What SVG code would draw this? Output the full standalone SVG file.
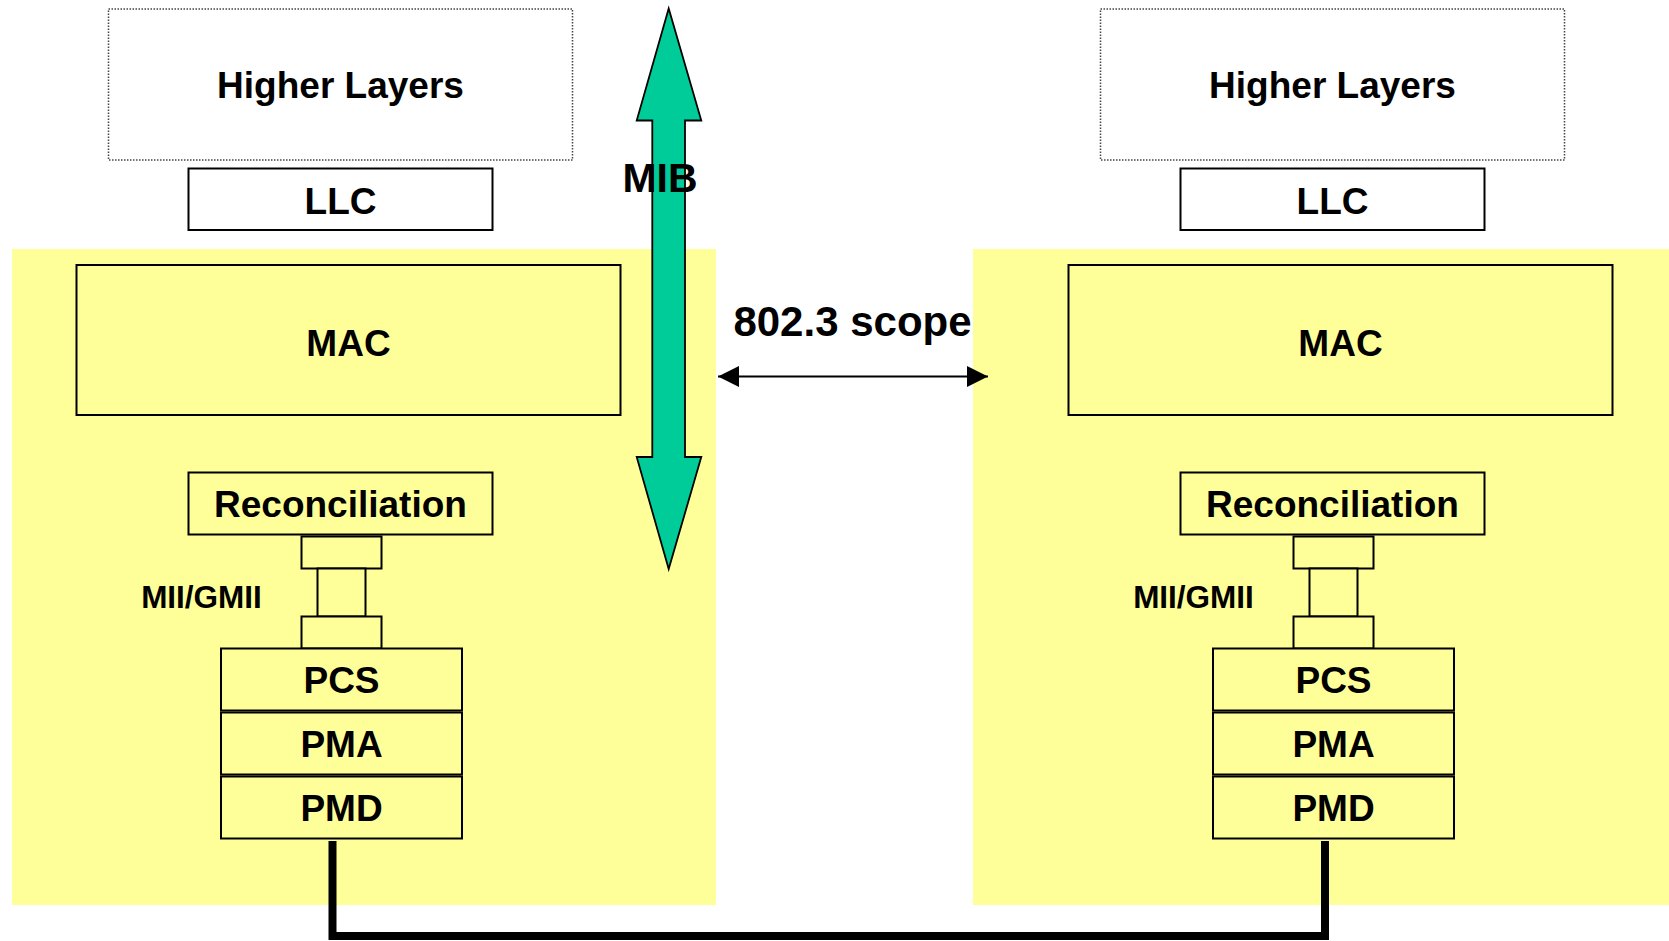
<svg xmlns="http://www.w3.org/2000/svg" width="1669" height="941" viewBox="0 0 1669 941">
<style>
.bg{fill:#FFFF99;stroke:none}
.box{fill:#FFFF99;stroke:#000;stroke-width:2}
.wbox{fill:#fff;stroke:#000;stroke-width:2}
.dot{fill:#fff;stroke:#444;stroke-width:1.5;stroke-dasharray:1.5 1.5}
.t{font-family:"Liberation Sans",Arial,sans-serif;font-weight:bold;fill:#000;text-anchor:middle}
.big{font-size:37px}
.small{font-size:31.5px}
</style>
<defs>
<marker id="ah" viewBox="0 0 10 10" refX="10" refY="5" markerWidth="21" markerHeight="21" markerUnits="userSpaceOnUse" orient="auto-start-reverse">
<path d="M0,0 L10,5 L0,10 z" fill="#000"/>
</marker>
</defs>
<rect width="1669" height="941" fill="#fff"/>
<g id="station-left-bg"><rect class="bg" x="12" y="249" width="704" height="656"/></g>
<g id="station-right-bg"><rect class="bg" x="973" y="249" width="696" height="656"/></g>

<g id="connectors">
<polygon id="mib-arrow" points="668.7,8.5 701.3,120.5 685,120.5 685,457 701.3,457 668.7,569 636.7,457 652.3,457 652.3,120.5 636.7,120.5" fill="#00CC99" stroke="#000" stroke-width="1.8" stroke-linejoin="miter"/>
<line id="scope-arrow" x1="718" y1="376.5" x2="988" y2="376.5" stroke="#000" stroke-width="2" marker-start="url(#ah)" marker-end="url(#ah)"/>
<polyline id="medium" points="332.5,841 332.5,936 1325,936 1325,841" fill="none" stroke="#000" stroke-width="8"/>
</g>

<g id="mib-label"><text class="t" x="660" y="192" style="font-size:41px">MIB</text></g>
<g id="scope-label"><text class="t" x="852.5" y="336" style="font-size:42px">802.3 scope</text></g>

<g id="left-higher"><rect class="dot" x="108.5" y="9" width="464" height="151"/><text class="t big" x="340.5" y="98">Higher Layers</text></g>
<g id="left-llc"><rect class="wbox" x="188.5" y="168.5" width="304" height="61.5"/><text class="t big" x="340.5" y="213.5">LLC</text></g>
<g id="left-mac"><rect class="box" x="76.5" y="265" width="544" height="150"/><text class="t big" x="348.5" y="355.5">MAC</text></g>
<g id="left-recon"><rect class="box" x="188.5" y="472.5" width="304" height="62"/><text class="t big" x="340.5" y="517.3">Reconciliation</text></g>
<g id="left-mii"><rect class="box" x="301.5" y="536.5" width="80" height="32"/><rect class="box" x="317.5" y="568.5" width="48" height="48"/><rect class="box" x="301.5" y="616.5" width="80" height="32"/><text class="t small" x="201.5" y="607.5">MII/GMII</text></g>
<g id="left-pcs"><rect class="box" x="221" y="648.5" width="241" height="62"/><text class="t big" x="341.5" y="692.7">PCS</text></g>
<g id="left-pma"><rect class="box" x="221" y="712.5" width="241" height="62"/><text class="t big" x="341.5" y="756.7">PMA</text></g>
<g id="left-pmd"><rect class="box" x="221" y="776.5" width="241" height="62"/><text class="t big" x="341.5" y="820.7">PMD</text></g>

<g id="right-higher"><rect class="dot" x="1100.5" y="9" width="464" height="151"/><text class="t big" x="1332.5" y="98">Higher Layers</text></g>
<g id="right-llc"><rect class="wbox" x="1180.5" y="168.5" width="304" height="61.5"/><text class="t big" x="1332.5" y="213.5">LLC</text></g>
<g id="right-mac"><rect class="box" x="1068.5" y="265" width="544" height="150"/><text class="t big" x="1340.5" y="355.5">MAC</text></g>
<g id="right-recon"><rect class="box" x="1180.5" y="472.5" width="304" height="62"/><text class="t big" x="1332.5" y="517.3">Reconciliation</text></g>
<g id="right-mii"><rect class="box" x="1293.5" y="536.5" width="80" height="32"/><rect class="box" x="1309.5" y="568.5" width="48" height="48"/><rect class="box" x="1293.5" y="616.5" width="80" height="32"/><text class="t small" x="1193.5" y="607.5">MII/GMII</text></g>
<g id="right-pcs"><rect class="box" x="1213" y="648.5" width="241" height="62"/><text class="t big" x="1333.5" y="692.7">PCS</text></g>
<g id="right-pma"><rect class="box" x="1213" y="712.5" width="241" height="62"/><text class="t big" x="1333.5" y="756.7">PMA</text></g>
<g id="right-pmd"><rect class="box" x="1213" y="776.5" width="241" height="62"/><text class="t big" x="1333.5" y="820.7">PMD</text></g>
</svg>
